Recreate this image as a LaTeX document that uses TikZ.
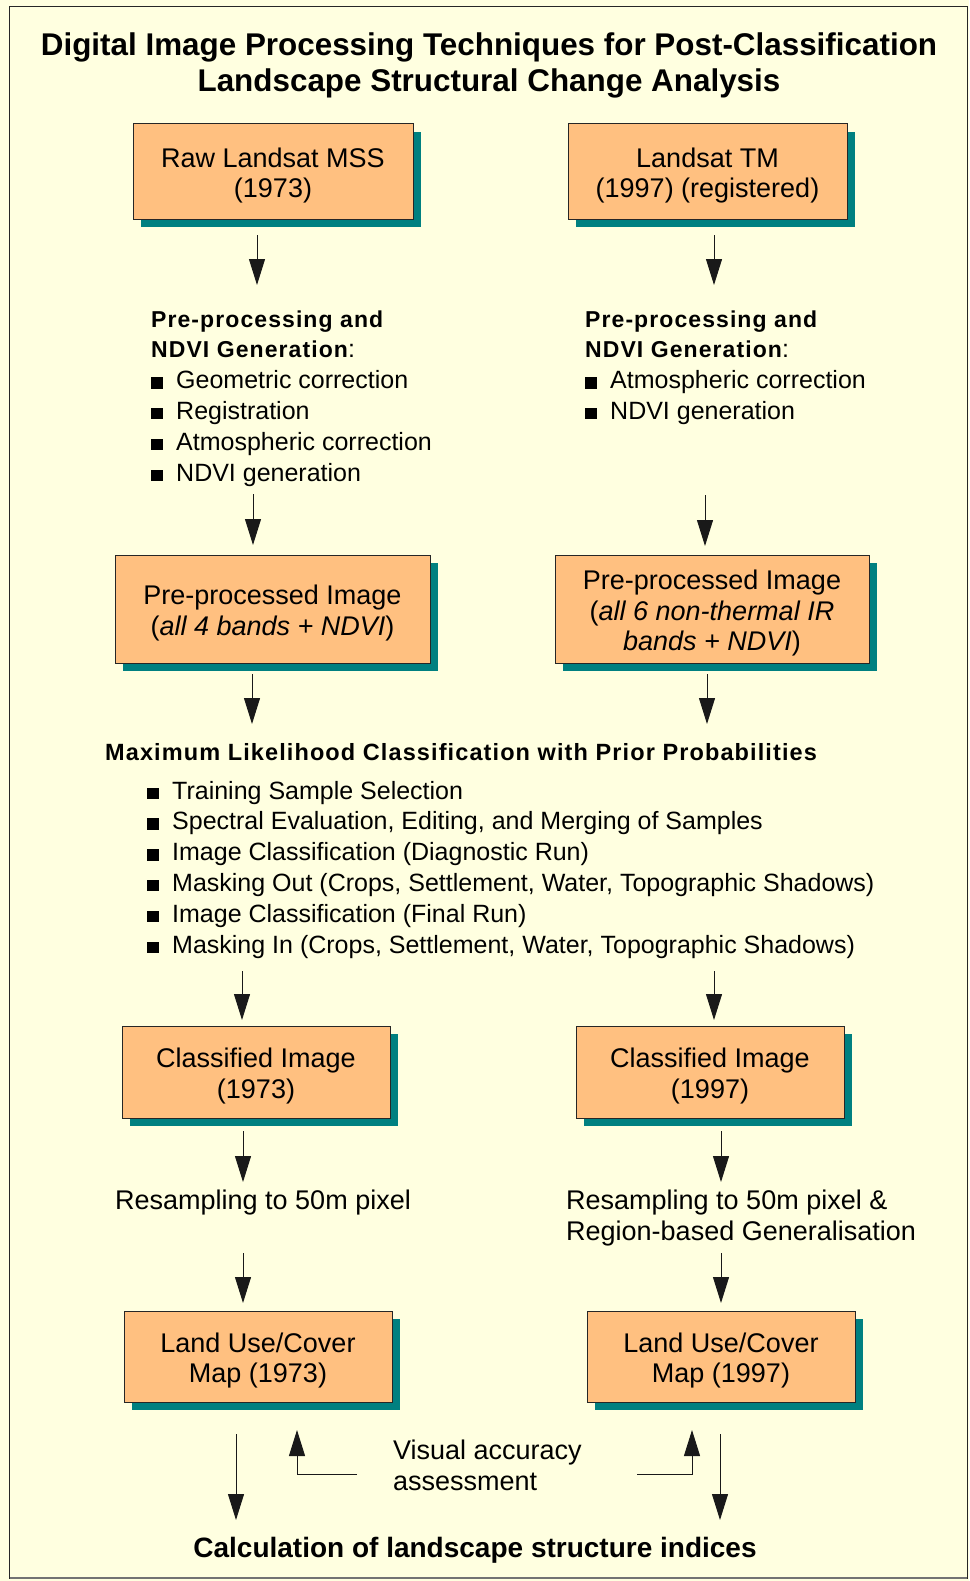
\documentclass[tikz,border=0pt]{standalone}
\usepackage{fontspec}
\setmainfont{Liberation Sans}
\newfontfamily\headfont[LetterSpace=4.7]{Liberation Sans}
\usetikzlibrary{arrows.meta,shadows}
\definecolor{pagebg}{HTML}{FFFFE0}
\definecolor{boxfill}{HTML}{FFC080}
\definecolor{shadowteal}{HTML}{008080}
\newcommand{\bodyfont}{\fontsize{27}{30.5}\selectfont}
\newcommand{\listfont}{\fontsize{25}{30.8}\selectfont}
\newcommand{\headtext}[1]{{\headfont\bfseries\fontsize{23}{30.8}\selectfont #1}}
\newcommand{\sqitem}{\makebox[25pt][l]{\rule{11.5pt}{11.5pt}}}
\newcommand{\boxstrut}{\rule{0pt}{28pt}}
\tikzset{
    stage-box/.style = {draw=black!85, fill=boxfill, line width=1pt, align=center, font=\bodyfont, inner sep=0pt,
        drop shadow={shadow xshift=8pt, shadow yshift=-8pt, fill=shadowteal, opacity=1}},
    step-text/.style = {anchor=base west, align=left, inner sep=0pt, font=\bodyfont},
    step-list/.style = {step-text, font=\listfont},
    step-head/.style = {step-text, font=\headfont\bfseries\fontsize{23.5}{30.8}\selectfont},
    title-text/.style = {align=center, inner sep=0pt, font=\bfseries\fontsize{31.4}{36.6}\selectfont},
    flow/.style = {-{Triangle[length=26pt,width=16pt]}, line width=1pt, draw=black!90},
}

\begin{document}
\begin{tikzpicture}[x=1pt, y=-1pt]
% page and frame
\fill[pagebg] (0,0) rectangle (969,1581);
\draw[black!85, line width=1pt] (9.5,7) rectangle (967,1578);
\draw[black!55, line width=2.5pt] (9.5,1578) -- (967,1578);

\node[title-text] (title) at (489,65.5) {Digital Image Processing Techniques for Post-Classification\\Landscape Structural Change Analysis};

% input images
\node[stage-box, minimum width=280pt, minimum height=95pt] (raw-mss) at (273,171.5) {\boxstrut Raw Landsat MSS\\(1973)};
\node[stage-box, minimum width=279pt, minimum height=95pt] (raw-tm) at (707.5,171.5) {\boxstrut Landsat TM\\(1997) (registered)};

% pre-processing (anchored at the last line)
\node[step-list] (prep-mss) at (151,481) {\headtext{Pre-processing and}\\\headtext{NDVI Generation}:\\
    \sqitem Geometric correction\\\sqitem Registration\\\sqitem Atmospheric correction\\\sqitem NDVI generation};
\node[step-list] (prep-tm) at (585,419.4) {\headtext{Pre-processing and}\\\headtext{NDVI Generation}:\\
    \sqitem Atmospheric correction\\\sqitem NDVI generation};

\node[stage-box, minimum width=315pt, minimum height=108pt] (pre-mss) at (272.5,609) {\boxstrut Pre-processed Image\\(\textit{all 4 bands + NDVI})};
\node[stage-box, minimum width=314pt, minimum height=108pt] (pre-tm) at (712,609) {\boxstrut Pre-processed Image\\(\textit{all 6 non-thermal IR}\\\textit{bands + NDVI})};

% classification
\node[step-head] (mlc-head) at (105,760) {Maximum Likelihood Classification with Prior Probabilities};
\node[step-list] (mlc-list) at (147,953) {\sqitem Training Sample Selection\\
    \sqitem Spectral Evaluation, Editing, and Merging of Samples\\
    \sqitem Image Classification (Diagnostic Run)\\
    \sqitem Masking Out (Crops, Settlement, Water, Topographic Shadows)\\
    \sqitem Image Classification (Final Run)\\
    \sqitem Masking In (Crops, Settlement, Water, Topographic Shadows)};

\node[stage-box, minimum width=268pt, minimum height=92pt] (class-mss) at (256,1072) {\boxstrut Classified Image\\(1973)};
\node[stage-box, minimum width=268pt, minimum height=92pt] (class-tm) at (710,1072) {\boxstrut Classified Image\\(1997)};

% resampling
\node[step-text] (resamp-mss) at (115,1209) {Resampling to 50m pixel};
\node[step-text] (resamp-tm) at (566,1240) {Resampling to 50m pixel \&\\Region-based Generalisation};

\node[stage-box, minimum width=268pt, minimum height=91pt] (map-mss) at (258,1356.5) {\boxstrut Land Use/Cover\\Map (1973)};
\node[stage-box, minimum width=268pt, minimum height=91pt] (map-tm) at (721,1356.5) {\boxstrut Land Use/Cover\\Map (1997)};

% accuracy and indices
\node[step-text] (visual) at (393,1490) {Visual accuracy\\assessment};
\node[anchor=base, inner sep=0pt, font=\bfseries\fontsize{28}{33}\selectfont] (indices) at (475,1557) {Calculation of landscape structure indices};

% downward arrows
\foreach \n/\x/\ya/\yb in {1/257/235/285, 2/714/235/285, 3/253/494/545, 4/705/495/546,
    5/252/674/724, 6/707/674/724, 7/242/971/1020, 8/714/971/1020,
    9/243/1131/1182, 10/721/1131/1182, 11/243/1253/1303, 12/721/1253/1303,
    13/236/1434/1520, 14/720/1434/1520} {
    \coordinate (down-top-\n) at (\x,\ya);
    \coordinate (down-end-\n) at (\x,\yb);
    \draw[flow] (down-top-\n) -- (down-end-\n);
}

% accuracy feedback
\coordinate (check-mss) at (357,1474);
\coordinate (check-mss-tip) at (297,1430);
\coordinate (check-tm) at (637,1474);
\coordinate (check-tm-tip) at (692,1430);
\draw[flow] (check-mss) -| (check-mss-tip);
\draw[flow] (check-tm) -| (check-tm-tip);
\end{tikzpicture}
\end{document}
